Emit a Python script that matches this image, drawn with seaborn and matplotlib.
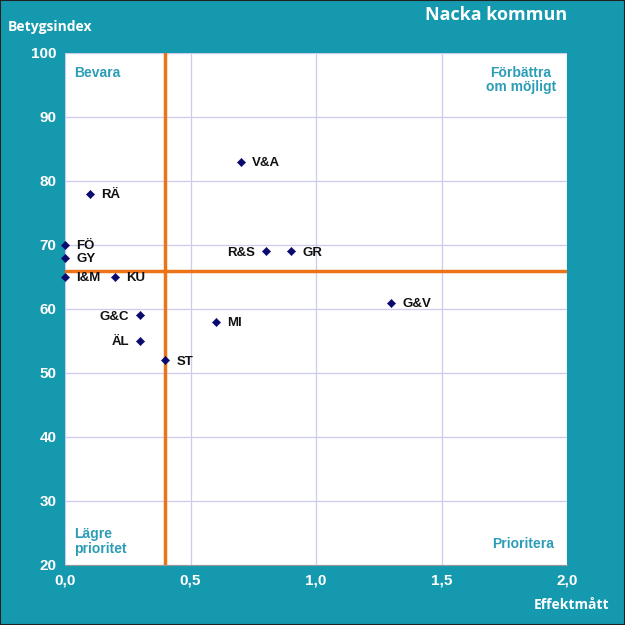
import matplotlib
matplotlib.use("Agg")
import matplotlib.pyplot as plt
import seaborn as sns
import pandas as pd
from matplotlib.ticker import FuncFormatter

labels = ["FÖ", "GY", "I&M", "KU", "G&C", "ÄL", "ST", "MI", "V&A", "RÄ", "R&S", "GR", "G&V"]
effekt = [0.0, 0.0, 0.0, 0.2, 0.3, 0.3, 0.4, 0.6, 0.7, 0.1, 0.8, 0.9, 1.3]
betyg = [70, 68, 65, 65, 59, 55, 52, 58, 83, 78, 69, 69, 61]
label_left = ["G&C", "ÄL", "R&S"]
x_line = 0.4
y_line = 66

df = pd.DataFrame({"label": labels, "Effektmått": effekt, "Betygsindex": betyg})

sns.set_theme(style="white")
plt.rcParams['font.family'] = ['Liberation Sans', 'DejaVu Sans']

bg = "#1599AE"
teal_txt = "#2C9DB6"
fig = plt.figure(figsize=(6.25, 6.25), dpi=100, facecolor=bg)
ax = fig.add_axes([65/625, 1-565/625, (567-65)/625, (565-53)/625])
ax.set_facecolor("white")

ax.set_xlim(0, 2)
ax.set_ylim(20, 100)
ax.set_xticks([0, 0.5, 1.0, 1.5, 2.0])
ax.set_yticks(range(20, 101, 10))
ax.grid(True, color="#CCCCEE", linewidth=0.9)
ax.set_axisbelow(True)

ax.axvline(x_line, color="#EC7318", linewidth=2.5, zorder=2)
ax.axhline(y_line, color="#EC7318", linewidth=2.5, zorder=2)

sns.scatterplot(data=df, x="Effektmått", y="Betygsindex", marker="D", s=18,
                color="#0A0A6E", edgecolor="#0A0A6E", ax=ax, zorder=3, clip_on=False)

for lab, xv, yv in zip(labels, effekt, betyg):
    if lab in label_left:
        ax.annotate(lab, (xv, yv), xytext=(-8, -1), textcoords="offset points",
                    ha="right", va="center", fontsize=9.5, fontweight="bold", color="#111111")
    else:
        ax.annotate(lab, (xv, yv), xytext=(8, -1), textcoords="offset points",
                    ha="left", va="center", fontsize=9.5, fontweight="bold", color="#111111")

ax.xaxis.set_major_formatter(FuncFormatter(lambda v, p: f"{v:.1f}".replace(".", ",")))
ax.tick_params(axis="both", colors="white", labelsize=11, length=0, pad=6)
for t in ax.get_xticklabels() + ax.get_yticklabels():
    t.set_fontweight("bold")
ax.set_xlabel("")
ax.set_ylabel("")
for s in ax.spines.values():
    s.set_visible(False)
ax.spines["bottom"].set_visible(True)
ax.spines["bottom"].set_color("#999999")
ax.spines["bottom"].set_linewidth(0.8)

qkw = dict(transform=ax.transAxes, color=teal_txt, fontsize=10, fontweight="bold", linespacing=1.05)
ax.text(0.018, 0.975, "Bevara", ha="left", va="top", **qkw)
ax.text(0.978, 0.975, "Förbättra\nom möjligt", ha="right", va="top", multialignment="center", **qkw)
ax.text(0.018, 0.018, "Lägre\nprioritet", ha="left", va="bottom", **qkw)
ax.text(0.975, 0.027, "Prioritera", ha="right", va="bottom", **qkw)

fig.text(567/625, 1-15/625, "Nacka kommun", ha="right", va="center", color="white",
         fontsize=13, fontweight="bold", family=["Open Sans", "DejaVu Sans"])
fig.text(8/625, 1-27/625, "Betygsindex", ha="left", va="center", color="white",
         fontsize=10, fontweight="bold", family=["Open Sans", "DejaVu Sans"])
fig.text(609/625, 1-605/625, "Effektmått", ha="right", va="center", color="white",
         fontsize=10, fontweight="bold", family=["Open Sans", "DejaVu Sans"])

border = plt.Rectangle((0, 0), 1, 1, transform=fig.transFigure, fill=False,
                       edgecolor="#222222", linewidth=1.5)
fig.patches.append(border)

fig.savefig("out.png", dpi=100, facecolor=bg)
